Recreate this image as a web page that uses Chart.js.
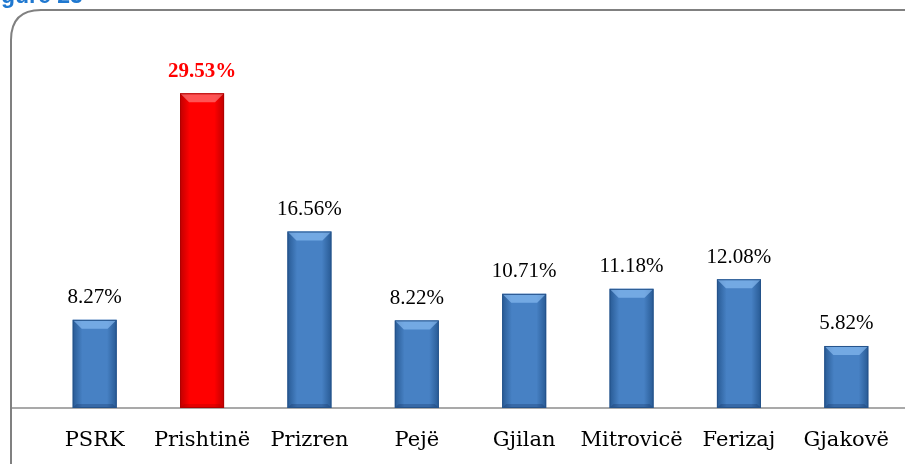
<!DOCTYPE html>
<html>
<head>
<meta charset="utf-8">
<script src="https://cdn.jsdelivr.net/npm/chart.js@4.4.1/dist/chart.umd.min.js"></script>
<style>
  html, body { margin: 0; padding: 0; background: #fff; }
  #wrap { width: 905px; height: 464px; position: relative; }
</style>
</head>
<body>
<div id="wrap"><canvas id="regionsChart" width="905" height="464"></canvas></div>
<script>
// datos del gráfico
var categories = ['PSRK', 'Prishtinë', 'Prizren', 'Pejë', 'Gjilan', 'Mitrovicë', 'Ferizaj', 'Gjakovë'];
var shares = [8.27, 29.53, 16.56, 8.22, 10.71, 11.18, 12.08, 5.82];
var highlight = 'Prishtinë';

var serif = '"Liberation Serif", "Times New Roman", serif';
var catFont = '"DejaVu Serif", serif';

function barGradient(ctx, left, right, red) {
    var g = ctx.createLinearGradient(left, 0, right, 0);
    if (red) {
        g.addColorStop(0, '#c00000');
        g.addColorStop(0.22, '#ff0000');
        g.addColorStop(0.78, '#ff0000');
        g.addColorStop(1, '#c00000');
    } else {
        g.addColorStop(0, '#285a94');
        g.addColorStop(0.22, '#4781c4');
        g.addColorStop(0.78, '#4781c4');
        g.addColorStop(1, '#285a94');
    }
    return g;
}

// marco redondeado, título cortado y línea base
var framePlugin = {
    id: 'frame',
    beforeDraw: function (chart) {
        var c = chart.ctx;
        c.save();
        c.fillStyle = '#1f78d0';
        c.font = 'bold 23px "Liberation Sans", Arial, sans-serif';
        c.textBaseline = 'alphabetic';
        var w = c.measureText('Fi').width;
        c.fillText('Figure 23', -w + 1, 3);
        c.strokeStyle = '#808080';
        c.lineWidth = 2;
        var x = 11, y = 10, r = 30;
        c.beginPath();
        c.moveTo(x, 480);
        c.lineTo(x, y + r);
        c.quadraticCurveTo(x, y, x + r, y);
        c.lineTo(920, y);
        c.stroke();
        c.restore();
    },
    beforeDatasetsDraw: function (chart) {
        var c = chart.ctx;
        var y0 = chart.scales.y.getPixelForValue(0);
        c.save();
        c.strokeStyle = '#8c8c8c';
        c.lineWidth = 1.5;
        c.beginPath();
        c.moveTo(12, y0);
        c.lineTo(905, y0);
        c.stroke();
        c.restore();
        // degradado horizontal de cada barra
        chart.getDatasetMeta(0).data.forEach(function (bar, i) {
            var red = categories[i] === highlight;
            bar.options.backgroundColor = barGradient(c, bar.x - bar.width / 2, bar.x + bar.width / 2, red);
        });
    }
};

// biselado de las barras y etiquetas de valor
var bevelPlugin = {
    id: 'bevel',
    afterDatasetsDraw: function (chart) {
        var c = chart.ctx;
        var meta = chart.getDatasetMeta(0);
        meta.data.forEach(function (bar, i) {
            var red = categories[i] === highlight;
            var half = bar.width / 2;
            var l = bar.x - half, r = bar.x + half, t = bar.y, b = bar.base;
            var s = 9;
            c.save();
            c.fillStyle = red ? 'rgba(255,140,140,0.6)' : 'rgba(140,190,245,0.65)';
            c.beginPath();
            c.moveTo(l, t); c.lineTo(r, t); c.lineTo(r - s, t + s); c.lineTo(l + s, t + s);
            c.closePath(); c.fill();
            c.fillStyle = red ? 'rgba(150,0,0,0.25)' : 'rgba(20,50,100,0.3)';
            c.beginPath();
            c.moveTo(l, b); c.lineTo(r, b); c.lineTo(r - 4, b - 4); c.lineTo(l + 4, b - 4);
            c.closePath(); c.fill();
            c.strokeStyle = red ? '#b00000' : '#24528a';
            c.lineWidth = 1;
            c.strokeRect(l + 0.5, t + 0.5, bar.width - 1, b - t - 1);

            c.fillStyle = red ? '#ff0000' : '#000000';
            c.font = (red ? 'bold ' : '') + '21px ' + serif;
            c.textAlign = 'center';
            c.textBaseline = 'middle';
            c.fillText(shares[i].toFixed(2) + '%', bar.x, t - 22);
            c.restore();
        });
    }
};

var ctx = document.getElementById('regionsChart').getContext('2d');
var regionsChart = new Chart(ctx, {
    type: 'bar',
    data: {
        labels: categories,
        datasets: [{
            data: shares,
            backgroundColor: categories.map(function (c) { return c === highlight ? '#ff0000' : '#4781c4'; }),
            borderWidth: 0,
            categoryPercentage: 1,
            barPercentage: 0.41
        }]
    },
    options: {
        responsive: false,
        animation: false,
        devicePixelRatio: 1,
        layout: {
            padding: { left: 41, right: 5, top: 35, bottom: 12 }
        },
        plugins: {
            legend: { display: false },
            tooltip: { enabled: false }
        },
        scales: {
            x: {
                grid: {
                    display: true,
                    drawOnChartArea: false,
                    drawTicks: true,
                    tickLength: 20,
                    color: 'rgba(0,0,0,0)'
                },
                border: { display: false },
                afterFit: function (scale) { scale.height = 44; },
                ticks: {
                    color: '#000',
                    padding: 0,
                    autoSkip: false,
                    maxRotation: 0,
                    minRotation: 0,
                    font: { family: catFont, size: 21 }
                }
            },
            y: {
                display: false,
                min: 0,
                max: 35
            }
        }
    },
    plugins: [framePlugin, bevelPlugin]
});
</script>
</body>
</html>
